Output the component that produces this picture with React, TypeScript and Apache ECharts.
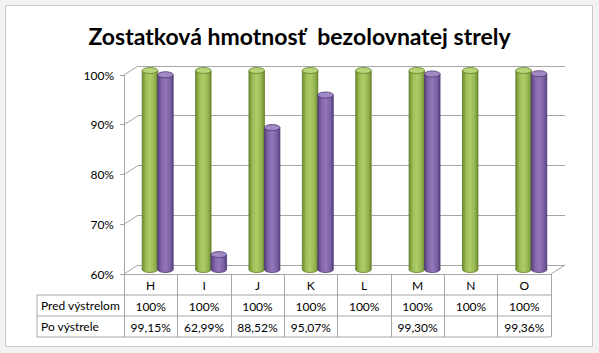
import React, { useEffect, useRef } from "react";
import * as echarts from "echarts";

const titleText = "Zostatková hmotnosť  bezolovnatej strely";
const categories = ["H", "I", "J", "K", "L", "M", "N", "O"];
const seriesNames = ["Pred výstrelom", "Po výstrele"];
const predValues: (number | null)[] = [1, 1, 1, 1, 1, 1, 1, 1];
const poValues: (number | null)[] = [0.9915, 0.6299, 0.8852, 0.9507, null, 0.993, null, 0.9936];
const yTicks = [0.6, 0.7, 0.8, 0.9, 1.0];
const Y_MIN = 0.6;
const Y_MAX = 1.0;
const Y_STEP = 0.1;

// layout
const W = 599;
const H = 353;
const FX0 = 124;
const FX1 = 551;
const FY_TOP = 75;
const FY_BOT = 274;
const DX = 14;
const DY = -9;
const ROW_H = 21;
const TABLE_LEFT = 37;
const GRID_COLOR = "#A6A6A6";
const TABLE_COLOR = "#A6A6A6";
const FONT = "Lato";

function fmtPct(v: number | null): string {
  if (v == null) return "";
  const p = Math.round(v * 10000) / 100;
  if (Math.abs(p - Math.round(p)) < 1e-9) return `${Math.round(p)}%`;
  return p.toFixed(2).replace(".", ",") + "%";
}

const GREEN = {
  body: [
    [0, "#6E8C2E"],
    [0.25, "#9DBE58"],
    [0.5, "#AECD67"],
    [0.8, "#95B552"],
    [1, "#6E8C2E"],
  ],
  top: "#B7D477",
  stroke: "#5F7B27",
};
const PURPLE = {
  body: [
    [0, "#5A4282"],
    [0.25, "#8466AB"],
    [0.5, "#9377BA"],
    [0.8, "#7D61A5"],
    [1, "#5A4282"],
  ],
  top: "#A089C4",
  stroke: "#4D3770",
};

function cylinderRender(colors: any, side: number) {
  return (params: any, api: any) => {
    const xi = api.value(0);
    const v = api.value(1);
    if (v == null || isNaN(v)) return null;
    const top = api.coord([xi, v]);
    const bot = api.coord([xi, Y_MIN]);
    const band = api.size([1, 0])[0];
    const w = band * 0.29;
    const cx = top[0] + side * (w / 2);
    const rx = w / 2;
    const ry = 3;
    const grad = {
      type: "linear",
      x: 0,
      y: 0,
      x2: 1,
      y2: 0,
      colorStops: colors.body.map((s: any) => ({ offset: s[0], color: s[1] })),
    };
    return {
      type: "group",
      children: [
        {
          type: "ellipse",
          shape: { cx, cy: bot[1], rx, ry },
          style: { fill: grad, stroke: colors.stroke, lineWidth: 0.8 },
        },
        {
          type: "rect",
          shape: { x: cx - rx, y: top[1], width: w, height: bot[1] - top[1] },
          style: { fill: grad, stroke: null },
        },
        {
          type: "line",
          shape: { x1: cx - rx, y1: top[1], x2: cx - rx, y2: bot[1] },
          style: { stroke: colors.stroke, lineWidth: 0.8 },
        },
        {
          type: "line",
          shape: { x1: cx + rx, y1: top[1], x2: cx + rx, y2: bot[1] },
          style: { stroke: colors.stroke, lineWidth: 0.8 },
        },
        {
          type: "ellipse",
          shape: { cx, cy: top[1], rx, ry },
          style: { fill: colors.top, stroke: colors.stroke, lineWidth: 0.8 },
        },
      ],
    };
  };
}

export default function App() {
  const ref = useRef<HTMLDivElement>(null);
  useEffect(() => {
    if (!ref.current) return;
    const chart = echarts.init(ref.current, null, { renderer: "svg", width: W, height: H });
    const gw = FX1 - FX0;
    const gh = FY_BOT - FY_TOP;
    const hiddenCat = {
      type: "category",
      data: categories,
      show: false,
      boundaryGap: true,
    };
    const tableLabel = (arr: (number | null)[], gridIdx: number, offset: number) => ({
      type: "category",
      gridIndex: gridIdx,
      data: categories,
      position: "bottom",
      offset,
      axisLine: { show: false },
      axisTick: { show: false },
      axisLabel: {
        interval: 0,
        margin: 5,
        fontFamily: FONT,
        fontSize: 12,
        color: "#000",
        formatter: (_v: string, idx: number) => fmtPct(arr[idx]),
      },
    });

    const option: any = {
      animation: false,
      backgroundColor: "#F2F2F2",
      title: {
        text: titleText,
        left: "center",
        top: 19,
        textStyle: { fontFamily: FONT, fontSize: 23, fontWeight: "bold", color: "#000" },
      },
      grid: [
        { left: FX0 + DX, top: FY_TOP + DY, width: gw, height: gh },
        { left: FX0, top: FY_TOP, width: gw, height: gh },
        { left: FX0 + DX / 2, top: FY_TOP + DY / 2, width: gw, height: gh },
      ],
      xAxis: [
        { ...hiddenCat, gridIndex: 0 },
        {
          type: "category",
          gridIndex: 1,
          data: categories,
          position: "bottom",
          axisLine: { show: true, lineStyle: { color: TABLE_COLOR, width: 1 } },
          axisTick: {
            show: true,
            interval: 0,
            alignWithLabel: false,
            length: ROW_H * 3,
            lineStyle: { color: TABLE_COLOR, width: 1 },
          },
          axisLabel: { interval: 0, margin: 5, fontFamily: FONT, fontSize: 12, color: "#000" },
        },
        tableLabel(predValues, 1, ROW_H),
        tableLabel(poValues, 1, ROW_H * 2),
        { ...hiddenCat, gridIndex: 2 },
      ],
      yAxis: [
        {
          type: "value",
          gridIndex: 0,
          min: Y_MIN,
          max: Y_MAX,
          interval: Y_STEP,
          axisLine: { show: false },
          axisTick: { show: false },
          axisLabel: { show: false },
          splitLine: { show: true, lineStyle: { color: GRID_COLOR, width: 1 } },
        },
        {
          type: "value",
          gridIndex: 1,
          min: Y_MIN,
          max: Y_MAX,
          interval: Y_STEP,
          axisLine: { show: true, lineStyle: { color: GRID_COLOR, width: 1 } },
          axisTick: { show: true, length: 4, lineStyle: { color: GRID_COLOR } },
          splitLine: { show: false },
          axisLabel: {
            margin: 10,
            fontFamily: FONT,
            fontSize: 12,
            color: "#000",
            formatter: (v: number) => `${Math.round(v * 100)}%`,
          },
        },
        {
          type: "value",
          gridIndex: 2,
          min: Y_MIN,
          max: Y_MAX,
          interval: Y_STEP,
          show: false,
          splitLine: { show: false },
        },
      ],
      series: [
        {
          name: seriesNames[0],
          type: "custom",
          xAxisIndex: 4,
          yAxisIndex: 2,
          renderItem: cylinderRender(GREEN, -1),
          data: predValues.map((v, i) => [i, v]).filter((d) => d[1] != null),
          z: 5,
        },
        {
          name: seriesNames[1],
          type: "custom",
          xAxisIndex: 4,
          yAxisIndex: 2,
          renderItem: cylinderRender(PURPLE, 1),
          data: poValues.map((v, i) => [i, v]).filter((d) => d[1] != null),
          z: 5,
        },
      ],
    };
    chart.setOption(option);

    // decorations derived from the front axis scale
    const graphics: any[] = [
      {
        type: "rect",
        z: -10,
        silent: true,
        shape: { x: 5.5, y: 5.5, width: W - 12, height: H - 12 },
        style: { fill: "#FFFFFF", stroke: "#C8C8C8", lineWidth: 1 },
      },
    ];
    yTicks.forEach((t) => {
      const p = chart.convertToPixel({ yAxisIndex: 1 } as any, t) as number;
      graphics.push({
        type: "line",
        silent: true,
        shape: { x1: FX0, y1: p, x2: FX0 + DX, y2: p + DY },
        style: { stroke: GRID_COLOR, lineWidth: 1 },
      });
    });
    // floor right edge
    graphics.push({
      type: "line",
      silent: true,
      shape: { x1: FX1, y1: FY_BOT, x2: FX1 + DX, y2: FY_BOT + DY },
      style: { stroke: GRID_COLOR, lineWidth: 1 },
    });
    // table lines
    [1, 2, 3].forEach((r) => {
      graphics.push({
        type: "line",
        silent: true,
        shape: { x1: TABLE_LEFT, y1: FY_BOT + r * ROW_H, x2: FX1, y2: FY_BOT + r * ROW_H },
        style: { stroke: TABLE_COLOR, lineWidth: 1 },
      });
    });
    graphics.push({
      type: "line",
      silent: true,
      shape: { x1: TABLE_LEFT, y1: FY_BOT + ROW_H, x2: TABLE_LEFT, y2: FY_BOT + 3 * ROW_H },
      style: { stroke: TABLE_COLOR, lineWidth: 1 },
    });
    seriesNames.forEach((name, i) => {
      graphics.push({
        type: "text",
        silent: true,
        x: TABLE_LEFT + 4,
        y: FY_BOT + (i + 1.5) * ROW_H,
        style: {
          text: name,
          fontFamily: FONT,
          fontSize: 12,
          fill: "#000",
          verticalAlign: "middle",
          align: "left",
        },
      });
    });
    chart.setOption({ graphic: graphics });

    return () => chart.dispose();
  }, []);
  return (
    <div
      ref={ref}
      style={{ position: "fixed", left: 0, top: 0, width: W, height: H }}
    />
  );
}
